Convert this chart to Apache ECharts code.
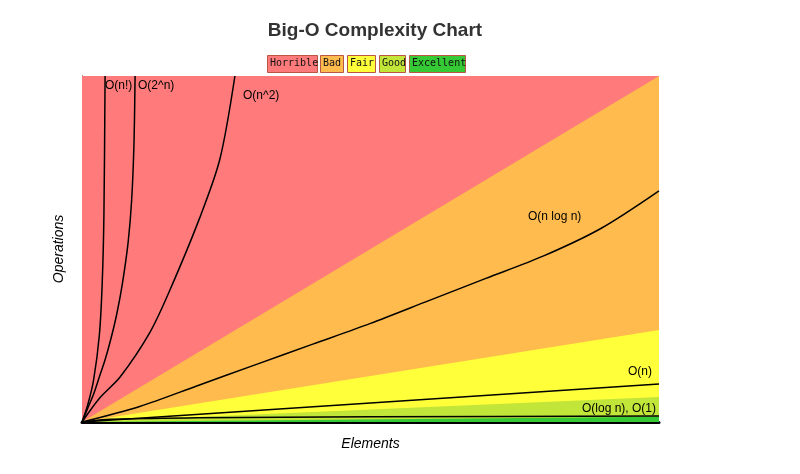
<!DOCTYPE html><html><head><meta charset="utf-8"><script src="https://cdn.jsdelivr.net/npm/echarts@6/dist/echarts.min.js"></script></head><body style="margin:0;background:#fff"><div id="c" style="width:800px;height:474px"></div><script>
const regionNames=['Horrible','Bad','Fair','Good','Excellent'];
const regionColors=['#ff7b7b','#ffbb4e','#ffff3a','#c2e53a','#36c936'];
const regionTops=[[[0,100],[100,100]],[[0,0],[100,100]],[[0,0],[100,26.6]],[[0,0],[100,7.2]],[[0,0],[100,1.5]]];
const curveNames=['O(n!)','O(2^n)','O(n^2)','O(n log n)','O(n)','O(log n), O(1)'];
const nFact=[[0,0],[1,5],[2,12],[3,25],[3.5,40],[3.8,60],[4,100]];
const twoN=[[0,0],[1,4],[2,8],[3,13],[4,18],[5,24],[6,31],[7,40],[8,52],[8.6,64],[9,80],[9.2,100]];
const nSq=[[0,0],[3.1,7],[6.6,13],[11.8,26],[15.2,38],[20.4,59],[23.9,76],[26.5,100]];
const nLogN=[[0,0],[10,4.5],[20,10.5],[30,16.5],[40,22.5],[50,28.5],[60,35],[70,41.5],[80,48],[90,56],[100,66.8]];
const linN=[[0,0],[100,11]];
const logN=[[0,0],[5,0.8],[20,1.2],[50,1.5],[100,1.7]];
const curves=[nFact,twoN,nSq,nLogN,linN,logN];
const labelPos=[[105,87],[138,87],[243,97],[528,218],[628,373],[582,410]];
const chart=echarts.init(document.getElementById('c'));
const series=[];
regionTops.forEach((d,i)=>series.push({type:'line',data:d,symbol:'none',lineStyle:{width:0},areaStyle:{color:regionColors[i],opacity:1},silent:true,z:1}));
curves.forEach((d,i)=>series.push({type:'line',data:d,symbol:'none',smooth:0.3,lineStyle:{color:'#000',width:1.5},z:3}));
const legendX=[267,320,347,379,409],legendW=[50,23,28,26,56];
const gfx=[];
regionNames.forEach((n,i)=>{gfx.push({type:'rect',left:legendX[i],top:55,shape:{width:legendW[i],height:17},style:{fill:regionColors[i],stroke:'#b54',lineWidth:1}});
gfx.push({type:'text',left:legendX[i]+3,top:58,style:{text:n,font:'10px "DejaVu Sans Mono"',fill:'#111'}});});
curveNames.forEach((n,i)=>gfx.push({type:'text',left:labelPos[i][0],top:labelPos[i][1]-7,z:10,style:{text:n,font:'12px "Liberation Sans"',fill:'#000'}}));
chart.setOption({animation:false,
title:{text:'Big-O Complexity Chart',left:370,textAlign:'center',top:16,textStyle:{fontSize:19,fontWeight:'bold',color:'#333',fontFamily:'Liberation Sans'}},
grid:{left:82,right:141,top:76,bottom:52},
xAxis:{type:'value',min:0,max:100,name:'Elements',nameLocation:'middle',nameGap:15,nameTextStyle:{fontStyle:'italic',fontSize:14,color:'#000',fontFamily:'Liberation Sans'},axisLine:{lineStyle:{color:'#000',width:3}},axisTick:{show:false},axisLabel:{show:false},splitLine:{show:false}},
yAxis:{type:'value',min:0,max:100,name:'Operations',nameLocation:'middle',nameGap:16,nameTextStyle:{fontStyle:'italic',fontSize:14,color:'#000',fontFamily:'Liberation Sans'},axisLine:{show:true,lineStyle:{color:'#000',width:1}},axisTick:{show:false},axisLabel:{show:false},splitLine:{show:false}},
series:series,graphic:gfx});
</script></body></html>
